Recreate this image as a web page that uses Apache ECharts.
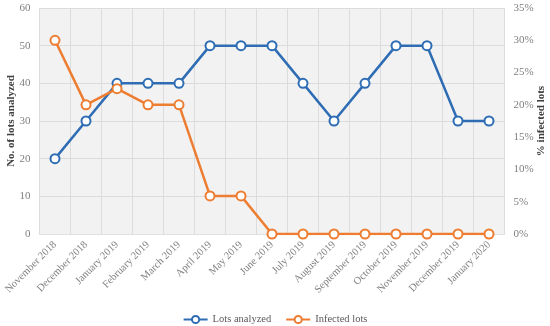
<!DOCTYPE html>
<html>
<head>
<meta charset="utf-8">
<script src="https://cdn.jsdelivr.net/npm/echarts@6/dist/echarts.min.js"></script>
<style>html,body{margin:0;padding:0;background:#fff;}#c{width:550px;height:326px;}</style>
</head>
<body>
<div id="c"></div>
<script>
const categories = ["November 2018","December 2018","January 2019","February 2019","March 2019","April 2019","May 2019","June 2019","July 2019","August 2019","September 2019","October 2019","November 2019","December 2019","January 2020"];
const lotsAnalyzed = [20,30,40,40,40,50,50,50,40,30,40,50,50,30,30];
const infectedPct = [30,20,22.5,20,20,5.9,5.9,0,0,0,0,0,0,0,0];
const leftTicks = [0,10,20,30,40,50,60];
const rightTicks = [0,5,10,15,20,25,30,35];

const font = "'Liberation Serif', 'DejaVu Serif', serif";
const labelColor = '#7f7f7f';
const chart = echarts.init(document.getElementById('c'));
chart.setOption({
  animation: false,
  textStyle: {fontFamily: font},
  grid: {left: 39.5, right: 45.5, top: 8, bottom: 92, containLabel: false, outerBoundsMode: 'none', show: true, backgroundColor: '#f2f2f2', borderWidth: 0},
  legend: {
    top: 309, left: 'center', itemWidth: 24, itemHeight: 9, itemGap: 14,
    textStyle: {fontFamily: font, fontSize: 10.5, color: '#595959'},
    data: ['Lots analyzed', 'Infected lots']
  },
  xAxis: {
    type: 'category', data: categories, boundaryGap: true,
    axisLine: {show: true, lineStyle: {color: '#e0e0e0'}},
    axisTick: {show: false},
    splitLine: {show: true, lineStyle: {color: '#dcdcdc', width: 1}},
    axisLabel: {rotate: 45, interval: 0, color: labelColor, fontSize: 10.5, fontFamily: font, margin: 9}
  },
  yAxis: [{
    type: 'value', min: leftTicks[0], max: leftTicks[leftTicks.length-1], interval: 10,
    name: 'No. of lots analyzed', nameLocation: 'middle', nameRotate: 90, nameGap: 23, nameMoveOverlap: false,
    nameTextStyle: {fontFamily: font, fontWeight: 'bold', fontSize: 11, color: '#404040'},
    axisLine: {show: false}, axisTick: {show: false},
    splitLine: {show: true, lineStyle: {color: '#dcdcdc', width: 1}},
    axisLabel: {color: labelColor, fontSize: 11, fontFamily: font, margin: 9}
  }, {
    type: 'value', min: rightTicks[0], max: rightTicks[rightTicks.length-1], interval: 5,
    name: '% infected lots', nameLocation: 'middle', nameRotate: 90, nameGap: 31, nameMoveOverlap: false,
    nameTextStyle: {fontFamily: font, fontWeight: 'bold', fontSize: 11, color: '#404040'},
    axisLine: {show: false}, axisTick: {show: false}, splitLine: {show: false},
    axisLabel: {color: labelColor, fontSize: 11, fontFamily: font, margin: 9, formatter: v => v + '%'}
  }],
  series: [{
    name: 'Lots analyzed', type: 'line', data: lotsAnalyzed, yAxisIndex: 0,
    symbol: 'circle', symbolSize: 9,
    itemStyle: {color: '#ffffff', borderColor: '#2e6db4', borderWidth: 2},
    lineStyle: {color: '#2e6db4', width: 2.5},
    color: '#2e6db4'
  }, {
    name: 'Infected lots', type: 'line', data: infectedPct, yAxisIndex: 1,
    symbol: 'circle', symbolSize: 9,
    itemStyle: {color: '#ffffff', borderColor: '#ed7d31', borderWidth: 2},
    lineStyle: {color: '#ed7d31', width: 2.5},
    color: '#ed7d31'
  }]
});
</script>
</body>
</html>
